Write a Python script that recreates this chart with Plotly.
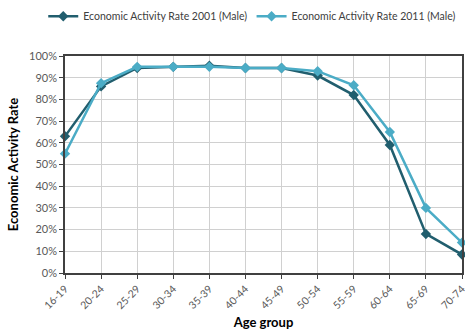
import plotly.graph_objects as go

age_groups = ["16-19", "20-24", "25-29", "30-34", "35-39", "40-44", "45-49",
              "50-54", "55-59", "60-64", "65-69", "70-74"]
rate_2001 = [63, 86, 94.5, 95, 95.5, 94.5, 94.5, 91, 82, 59, 18, 8.5]
rate_2011 = [55, 87.5, 95, 95, 95, 94.5, 94.5, 93, 86.5, 65, 30, 14]
y_ticks = list(range(0, 101, 10))

fig = go.Figure()
fig.add_trace(go.Scatter(x=age_groups, y=rate_2001, mode="lines+markers",
                         name="Economic Activity Rate 2001 (Male)",
                         line=dict(color="#215E6E", width=2.5),
                         marker=dict(symbol="diamond", size=8, color="#215E6E"),
                         cliponaxis=False, legend="legend"))
fig.add_trace(go.Scatter(x=age_groups, y=rate_2011, mode="lines+markers",
                         name="Economic Activity Rate 2011 (Male)",
                         line=dict(color="#4BACC6", width=2.5),
                         marker=dict(symbol="diamond", size=8, color="#4BACC6"),
                         cliponaxis=False, legend="legend2"))

legend_common = dict(orientation="h", xanchor="left", xref="container",
                     yref="container", y=0.995, yanchor="top",
                     font=dict(size=10.5, color="#404040"))

fig.update_layout(
    width=465, height=336,
    margin=dict(l=65, r=3, t=56, b=63, autoexpand=False),
    paper_bgcolor="white", plot_bgcolor="white",
    font=dict(family="Lato, Open Sans, sans-serif", size=10, color="#595959"),
    legend=dict(x=0.093, **legend_common),
    legend2=dict(x=0.541, **legend_common),
    showlegend=True,
)
fig.update_xaxes(
    range=[0, 11], showgrid=True, gridcolor="#D0D0D0", gridwidth=1,
    tickangle=-45, ticks="outside", ticklen=4, tickcolor="#404040",
    showline=True, linecolor="#404040", linewidth=1.5, mirror=True,
    automargin=False,
    title=dict(text="<b>Age group</b>", font=dict(size=13, color="#000000"), standoff=8),
    tickfont=dict(size=10.5, color="#595959"),
)
fig.update_yaxes(
    range=[0, 100], tickvals=y_ticks, ticktext=[f"{v}%" for v in y_ticks],
    showgrid=True, gridcolor="#D0D0D0", gridwidth=1,
    ticks="outside", ticklen=4, tickcolor="#404040",
    showline=True, linecolor="#404040", linewidth=1.5, mirror=True,
    automargin=False,
    title=dict(text="<b>Economic Activity Rate</b>", font=dict(size=13, color="#000000"), standoff=8),
    tickfont=dict(size=11, color="#595959"), zeroline=False,
)

post = ("document.body.style.margin='0';document.body.style.padding='0';"
        "document.body.style.overflow='hidden';"
        "document.documentElement.style.overflow='hidden';")
fig.write_html("out.html", post_script=post, config={"displayModeBar": False})
